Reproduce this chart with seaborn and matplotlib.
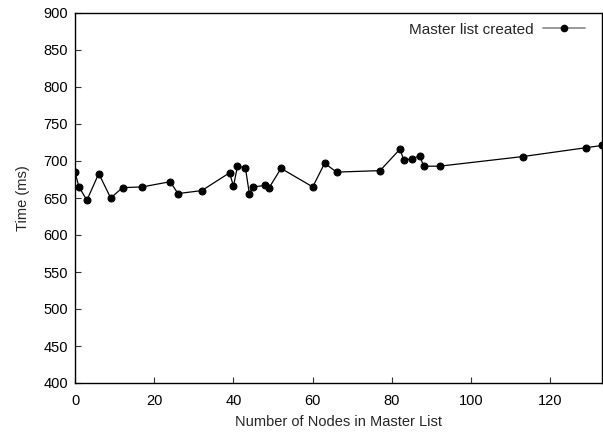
import matplotlib
matplotlib.use("Agg")
import matplotlib.pyplot as plt
import seaborn as sns
import pandas as pd
from matplotlib.lines import Line2D

nodes = [0, 1, 3, 6, 9, 12, 17, 24, 26, 32, 39, 40, 41, 43, 44, 45, 48, 49, 52,
         60, 63, 66, 77, 82, 83, 85, 87, 88, 92, 113, 129, 133]
times = [685, 665, 647, 683, 650, 664, 665, 672, 656, 660, 684, 666, 693, 691,
         656, 665, 667, 664, 690, 665, 697, 685, 687, 716, 701, 703, 707, 693,
         693, 706, 718, 721]
series_label = "Master list created"
xticks = [0, 20, 40, 60, 80, 100, 120]
yticks = [400, 450, 500, 550, 600, 650, 700, 750, 800, 850, 900]

df = pd.DataFrame({"nodes": nodes, "time": times})

sns.set_style("white")
plt.rcParams["font.family"] = ["Liberation Sans", "DejaVu Sans"]

fig = plt.figure(figsize=(6.03, 4.33), dpi=100)
ax = fig.add_axes([75 / 603, 1 - 383 / 433, (602 - 75) / 603, (383 - 13) / 433])

sns.lineplot(data=df, x="nodes", y="time", ax=ax, color="black", linewidth=0.9,
             marker="o", markersize=5, markeredgecolor="black",
             markerfacecolor="black", legend=False)

ax.set_xlim(0, 133)
ax.set_ylim(400, 900)
ax.set_xticks(xticks)
ax.set_yticks(yticks)
ax.tick_params(direction="in", length=4, width=0.8, labelsize=10.5,
               top=False, right=False, left=True, bottom=True, colors="#333333",
               labelcolor="black")
ax.tick_params(axis="x", pad=8)
ax.tick_params(axis="y", pad=5)
for sp in ax.spines.values():
    sp.set_visible(True)
    sp.set_color("black")
    sp.set_linewidth(1.0)
ax.set_xlabel("Number of Nodes in Master List", fontsize=10.5, labelpad=5)
ax.set_ylabel("Time (ms)", fontsize=10.5, labelpad=10)

handle = Line2D([0], [0], color="#888888", linewidth=1.2, marker="o",
                markersize=4.5, markerfacecolor="black", markeredgecolor="black")
leg = ax.legend([handle], [series_label], loc="upper right", frameon=False,
                fontsize=11, markerfirst=False, handlelength=2.8,
                handletextpad=0.6,
                borderaxespad=0.0, bbox_to_anchor=(0.98, 0.99))

fig.savefig("out.png", dpi=100)
